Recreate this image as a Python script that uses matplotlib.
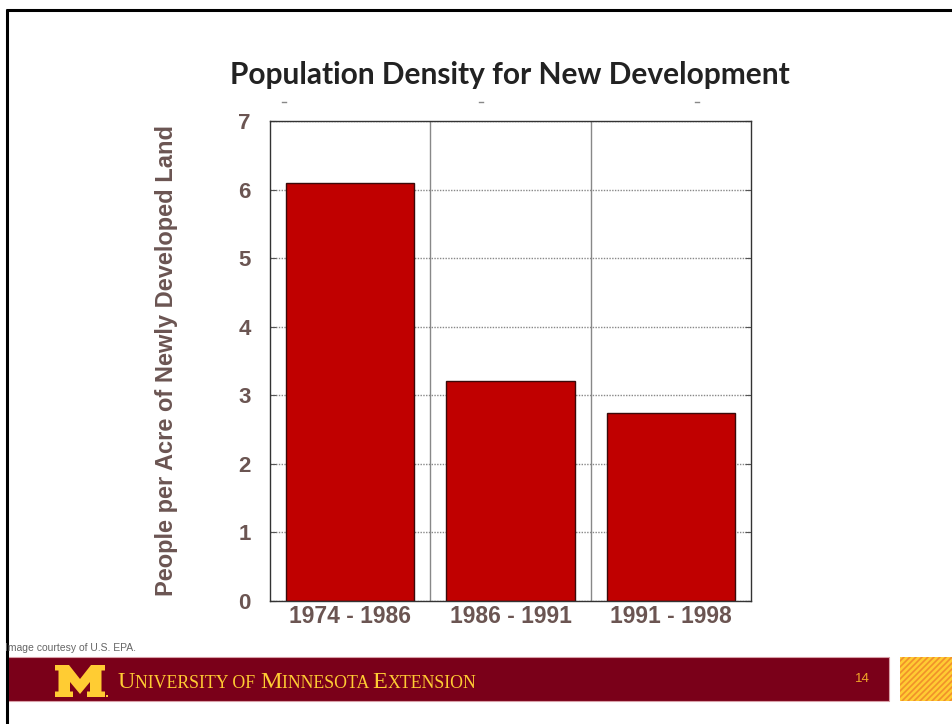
import matplotlib
matplotlib.use("Agg")
import matplotlib.pyplot as plt
from matplotlib.patches import Rectangle, Polygon
import numpy as np

# ---- data ----
categories = ["1974 - 1986", "1986 - 1991", "1991 - 1998"]
values = [6.09, 3.21, 2.74]
yticks = [0, 1, 2, 3, 4, 5, 6, 7]

title = "Population Density for New Development"
ylabel = "People per Acre of Newly Developed Land"
credit = "Image courtesy of U.S. EPA."
page_no = "14"

W, H = 953, 724
fig = plt.figure(figsize=(W / 100, H / 100), dpi=100)
fig.patch.set_facecolor("white")

# overlay axes in pixel coordinates for slide decorations
ov = fig.add_axes([0, 0, 1, 1], zorder=0)
ov.set_xlim(0, W)
ov.set_ylim(H, 0)
ov.axis("off")

# slide frame
ov.plot([7, 7], [9, H], color="black", lw=2.2, solid_capstyle="butt")
ov.plot([6, W], [10, 10], color="black", lw=2.2, solid_capstyle="butt")

# footer band
ov.add_patch(Rectangle((8, 657), 881, 44, facecolor="#7a0019", edgecolor="#d8a0a8", lw=0.8))
# hatched square
ov.add_patch(Rectangle((900, 657), 53, 44, facecolor="#ffcc33", edgecolor="none"))
clip = Rectangle((900, 657), 53, 44, transform=ov.transData, visible=False)
ov.add_patch(clip)
for x0 in np.arange(860, 970, 6):
    ln, = ov.plot([x0, x0 + 44], [701, 657], color="#f0902a", lw=1.2)
    ln.set_clip_path(clip)

# block M logo
mx, my, sx, sy = 55, 697, 5.0, 5.0
pts = [(0, 0), (3.6, 0), (3.6, 1.1), (3.0, 1.1), (3.0, 3.0), (5, 0.6), (7, 3.0), (7, 1.1),
       (6.4, 1.1), (6.4, 0), (10, 0), (10, 1.1), (9.3, 1.1), (9.3, 5.3), (10, 5.3), (10, 6.4),
       (7.2, 6.4), (5, 3.6), (2.8, 6.4), (0, 6.4), (0, 5.3), (0.7, 5.3), (0.7, 1.1), (0, 1.1)]
ov.add_patch(Polygon([(mx + px * sx, my - py * sy) for px, py in pts], closed=True,
                     facecolor="#ffcc33", edgecolor="none"))
ov.add_patch(Rectangle((mx + 51, my - 2), 2, 2, facecolor="#ffcc33", edgecolor="none"))

# small-caps university name
gold = "#ffcc33"
segments = [("U", 17.5), ("NIVERSITY OF ", 12.8), ("M", 17.5), ("INNESOTA ", 12.8),
            ("E", 17.5), ("XTENSION", 12.8)]
fig.canvas.draw()
renderer = fig.canvas.get_renderer()
xcur = 118
for s, fs in segments:
    t = ov.text(xcur, 688.5, s, fontsize=fs, family="Liberation Serif", color=gold,
                va="baseline", ha="left")
    bb = t.get_window_extent(renderer=renderer)
    xcur += bb.width

ov.text(862, 679, page_no, fontsize=9.5, color="#f0a828", family="Liberation Sans",
        ha="center", va="center")
ov.text(5, 648, credit, fontsize=7.5, color="#666666", family="Liberation Sans",
        ha="left", va="center")

# small stray marks above plot
for x0 in [284, 481, 697]:
    ov.plot([x0 - 2, x0 + 2], [102, 102], color="#888888", lw=1)

# title
ov.text(510, 75, title, fontsize=21.5, fontweight="bold", family="Lato", color="#222222",
        ha="center", va="center")

# ---- chart ----
ax = fig.add_axes([270 / W, 1 - 601 / H, 481 / W, 480 / H], zorder=2)
ax.set_xlim(-0.5, 2.5)
ax.set_ylim(0, 7)
x = np.arange(len(categories))
ax.set_axisbelow(True)
ax.yaxis.grid(True, linestyle=(0, (1, 1)), color="#888888", lw=1)
for xv in [0.5, 1.5]:
    ax.axvline(xv, color="#888888", lw=1, zorder=0.5)
ax.bar(x, values, width=0.8, color="#c00000", edgecolor="#3a0a0a", lw=1.0, zorder=2)

lab_col = "#6b5552"
ax.set_yticks(yticks)
ax.set_yticklabels([str(v) for v in yticks], fontsize=16, fontweight="bold",
                   family="Liberation Sans", color=lab_col)
ax.set_xticks(x)
ax.set_xticklabels(categories, fontsize=16.5, fontweight="bold",
                   family="Liberation Sans", color=lab_col)
ax.tick_params(axis="y", direction="in", length=4, color="#555555", right=True, pad=14)
ax.tick_params(axis="x", length=0, pad=3)
for sp in ax.spines.values():
    sp.set_color("#333333")
    sp.set_linewidth(1.0)

fig.text(167 / W, 1 - 361 / H, ylabel, rotation=90, fontsize=17, fontweight="bold",
         family="Liberation Sans", color=lab_col, ha="center", va="center")

fig.savefig("out.png", dpi=100, facecolor="white")
